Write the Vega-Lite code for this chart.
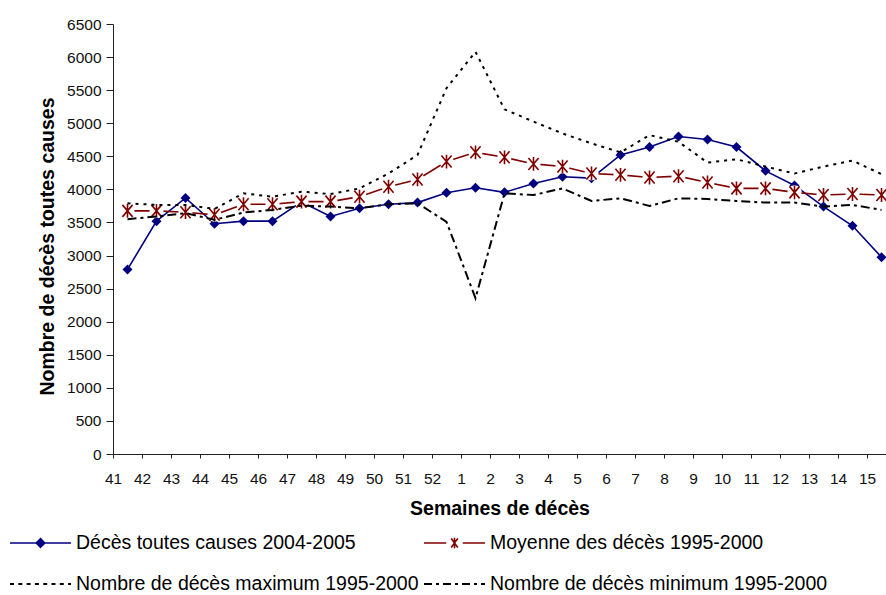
{
  "$schema": "https://vega.github.io/schema/vega-lite/v6.json",
  "width": 773,
  "height": 430,
  "autosize": "none",
  "padding": {"left": 113, "top": 24, "right": 0, "bottom": 141},
  "background": "white",
  "config": {
    "font": "Liberation Sans",
    "view": {"stroke": null},
    "axis": {"domainColor": "#222", "tickColor": "#222", "labelColor": "#111", "titleColor": "#000", "grid": false, "labelFont": "Liberation Sans", "titleFont": "Liberation Sans"}
  },
  "data": {
    "values": [
      {"idx": 0, "semaine": 41, "a": 2790, "b": 3675, "c": 3790, "d": 3550},
      {"idx": 1, "semaine": 42, "a": 3520, "b": 3675, "c": 3765, "d": 3590},
      {"idx": 2, "semaine": 43, "a": 3870, "b": 3655, "c": 3765, "d": 3640},
      {"idx": 3, "semaine": 44, "a": 3480, "b": 3615, "c": 3705, "d": 3540},
      {"idx": 4, "semaine": 45, "a": 3520, "b": 3775, "c": 3940, "d": 3650},
      {"idx": 5, "semaine": 46, "a": 3520, "b": 3775, "c": 3890, "d": 3690},
      {"idx": 6, "semaine": 47, "a": 3810, "b": 3815, "c": 3965, "d": 3755},
      {"idx": 7, "semaine": 48, "a": 3590, "b": 3815, "c": 3930, "d": 3740},
      {"idx": 8, "semaine": 49, "a": 3715, "b": 3890, "c": 4015, "d": 3715},
      {"idx": 9, "semaine": 50, "a": 3775, "b": 4040, "c": 4240, "d": 3775},
      {"idx": 10, "semaine": 51, "a": 3800, "b": 4150, "c": 4520, "d": 3790},
      {"idx": 11, "semaine": 52, "a": 3950, "b": 4420, "c": 5530, "d": 3510},
      {"idx": 12, "semaine": 1, "a": 4025, "b": 4560, "c": 6080, "d": 2355},
      {"idx": 13, "semaine": 2, "a": 3955, "b": 4485, "c": 5210, "d": 3940},
      {"idx": 14, "semaine": 3, "a": 4090, "b": 4385, "c": 5025, "d": 3915},
      {"idx": 15, "semaine": 4, "a": 4190, "b": 4345, "c": 4845, "d": 4015},
      {"idx": 16, "semaine": 5, "a": 4170, "b": 4240, "c": 4695, "d": 3825},
      {"idx": 17, "semaine": 6, "a": 4520, "b": 4220, "c": 4560, "d": 3865},
      {"idx": 18, "semaine": 7, "a": 4640, "b": 4180, "c": 4820, "d": 3750},
      {"idx": 19, "semaine": 8, "a": 4800, "b": 4200, "c": 4720, "d": 3865},
      {"idx": 20, "semaine": 9, "a": 4755, "b": 4105, "c": 4405, "d": 3855},
      {"idx": 21, "semaine": 10, "a": 4640, "b": 4015, "c": 4455, "d": 3825},
      {"idx": 22, "semaine": 11, "a": 4280, "b": 4015, "c": 4345, "d": 3800},
      {"idx": 23, "semaine": 12, "a": 4060, "b": 3955, "c": 4240, "d": 3800},
      {"idx": 24, "semaine": 13, "a": 3740, "b": 3915, "c": 4345, "d": 3740},
      {"idx": 25, "semaine": 14, "a": 3450, "b": 3930, "c": 4435, "d": 3765},
      {"idx": 26, "semaine": 15, "a": 2975, "b": 3915, "c": 4230, "d": 3690}
    ]
  },
  "transform": [
    {"fold": ["a", "b", "c", "d"], "as": ["key", "deces"]},
    {"lookup": "key", "from": {"data": {"values": [
      {"key": "a", "serie": "Décès toutes causes 2004-2005"},
      {"key": "b", "serie": "Moyenne des décès 1995-2000"},
      {"key": "c", "serie": "Nombre de décès maximum 1995-2000"},
      {"key": "d", "serie": "Nombre de décès minimum 1995-2000"}
    ]}, "key": "key", "fields": ["serie"]}}
  ],
  "encoding": {
    "x": {
      "field": "idx", "type": "quantitative",
      "scale": {"domain": [-0.5, 26.155], "nice": false, "zero": false},
      "axis": {
        "values": [-0.5, 0.5, 1.5, 2.5, 3.5, 4.5, 5.5, 6.5, 7.5, 8.5, 9.5, 10.5, 11.5, 12.5, 13.5, 14.5, 15.5, 16.5, 17.5, 18.5, 19.5, 20.5, 21.5, 22.5, 23.5, 24.5, 25.5],
        "labelExpr": "datum.value < 11 ? '' + round(41.5 + datum.value) : '' + round(datum.value - 10.5)",
        "title": "Semaines de décès",
        "titleFontSize": 19.5, "titleFontWeight": "bold", "titlePadding": 13,
        "labelFontSize": 15.5, "labelPadding": 13, "tickSize": 4, "labelFlush": false, "labelOverlap": false,
        "labelAngle": 0
      }
    },
    "y": {
      "field": "deces", "type": "quantitative",
      "scale": {"domain": [0, 6500], "nice": false},
      "axis": {
        "values": [0, 500, 1000, 1500, 2000, 2500, 3000, 3500, 4000, 4500, 5000, 5500, 6000, 6500],
        "format": "d",
        "title": "Nombre de décès toutes causes",
        "titleFontSize": 19.5, "titleFontWeight": "bold", "titlePadding": 9, "titleY": 222,
        "labelFontSize": 15.5, "labelPadding": 5, "tickSize": 7
      }
    }
  },
  "layer": [
    {
      "transform": [{"filter": "datum.key === 'a'"}],
      "mark": {"type": "line", "strokeWidth": 1.6},
      "encoding": {
        "color": {
          "field": "serie", "type": "nominal",
          "scale": {
            "domain": ["Décès toutes causes 2004-2005", "Moyenne des décès 1995-2000", "Nombre de décès maximum 1995-2000", "Nombre de décès minimum 1995-2000"],
            "range": ["#000080", "#800000", "#000000", "#000000"]
          },
          "legend": {
            "title": null,
            "orient": "none",
            "direction": "horizontal",
            "legendX": -103,
            "legendY": 509,
            "columns": 2,
            "columnPadding": 5,
            "rowPadding": 21,
            "padding": 0,
            "clipHeight": 20,
            "symbolSize": 3721,
            "symbolStrokeWidth": 1.6,
            "labelFontSize": 19.5,
            "labelFont": "Liberation Sans",
            "labelColor": "#000",
            "labelOffset": 5,
            "labelLimit": 600,
            "encode": {
              "symbols": {
                "update": {
                  "x": {"value": 30.5},
                  "size": {"value": 3721},
                  "shape": {"signal": "datum.value === 'Décès toutes causes 2004-2005' ? 'M-1,0H1M0,-0.14L0.14,0L0,0.14L-0.14,0Z' : datum.value === 'Moyenne des décès 1995-2000' ? 'M-1,0H-0.27M0.27,0H1M-0.11,-0.15L0.11,0.15M0.11,-0.15L-0.11,0.15M0,-0.17V0.17' : 'M-1,0H1'"},
                  "fill": {"signal": "datum.value === 'Décès toutes causes 2004-2005' ? '#000080' : 'transparent'"},
                  "strokeDash": {"signal": "datum.value === 'Nombre de décès maximum 1995-2000' ? [4, 4.3] : datum.value === 'Nombre de décès minimum 1995-2000' ? [8, 4, 3, 4] : [1, 0]"},
                  "strokeWidth": {"signal": "datum.value === 'Nombre de décès maximum 1995-2000' || datum.value === 'Nombre de décès minimum 1995-2000' ? 2 : 1.6"}
                }
              },
              "labels": {
                "update": {
                  "x": {"value": 66}
                }
              }
            }
          }
        }
      }
    },
    {
      "transform": [{"filter": "datum.key === 'a'"}],
      "mark": {"type": "point", "shape": "diamond", "filled": true, "size": 100, "color": "#000080", "opacity": 1}
    },
    {
      "transform": [{"filter": "datum.key === 'b'"}],
      "mark": {"type": "line", "strokeWidth": 1.6},
      "encoding": {"color": {"field": "serie", "type": "nominal"}}
    },
    {
      "transform": [{"filter": "datum.key === 'b'"}],
      "mark": {"type": "point", "shape": "circle", "filled": true, "size": 200, "color": "#ffffff", "opacity": 1}
    },
    {
      "transform": [{"filter": "datum.key === 'b'"}],
      "mark": {"type": "point", "shape": "M-0.85,-1L0.85,1M0.85,-1L-0.85,1M0,-1.15V1.15", "filled": false, "size": 144, "color": "#800000", "strokeWidth": 1.6, "opacity": 1}
    },
    {
      "transform": [{"filter": "datum.key === 'c'"}],
      "mark": {"type": "line", "strokeWidth": 2, "strokeDash": [3, 5]},
      "encoding": {"color": {"field": "serie", "type": "nominal"}}
    },
    {
      "transform": [{"filter": "datum.key === 'd'"}],
      "mark": {"type": "line", "strokeWidth": 2, "strokeDash": [9, 4, 3, 4]},
      "encoding": {"color": {"field": "serie", "type": "nominal"}}
    }
  ]
}
